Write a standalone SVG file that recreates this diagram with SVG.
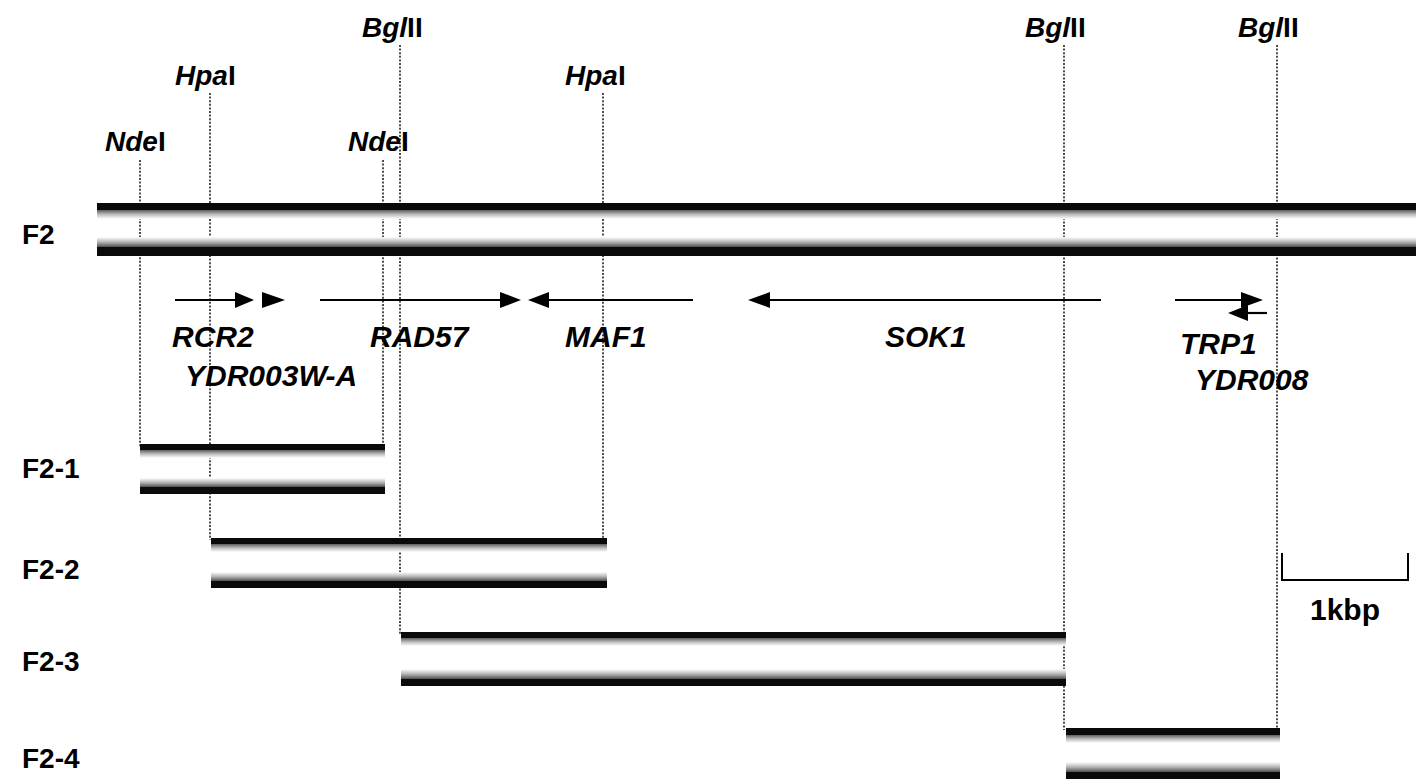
<svg xmlns="http://www.w3.org/2000/svg" width="1416" height="779" viewBox="0 0 1416 779">
<defs>
<linearGradient id="gDown" x1="0" y1="0" x2="0" y2="1">
<stop offset="0" stop-color="#5e5e5e"/><stop offset="0.5" stop-color="#bdbdbd"/><stop offset="1" stop-color="#ffffff"/>
</linearGradient>
<linearGradient id="gUp" x1="0" y1="0" x2="0" y2="1">
<stop offset="0" stop-color="#ffffff"/><stop offset="0.5" stop-color="#b5b5b5"/><stop offset="1" stop-color="#505050"/>
</linearGradient>
</defs>
<style>
.lbl{font-family:"Liberation Sans",Arial,sans-serif;font-weight:bold;fill:#000}
.it{font-style:italic}
.site{font-size:28px}
.gene{font-size:30px;font-style:italic}
.frag{font-size:28px}
.dot{stroke:#222;stroke-width:1.6;stroke-dasharray:2 1.6;fill:none}
.blk{fill:#0a0a0a}
.gd{fill:url(#gDown)}
.gu{fill:url(#gUp)}
.gl{stroke:#000;stroke-width:2.2;fill:none}
.ah{fill:#000}
</style>

<g id="site-lines">
<line class="dot" x1="140" y1="160" x2="140" y2="446"/>
<line class="dot" x1="210" y1="93" x2="210" y2="540"/>
<line class="dot" x1="383" y1="160" x2="383" y2="446"/>
<line class="dot" x1="400" y1="45" x2="400" y2="634"/>
<line class="dot" x1="603" y1="93" x2="603" y2="540"/>
<line class="dot" x1="1064" y1="45" x2="1064" y2="730"/>
<line class="dot" x1="1277" y1="45" x2="1277" y2="730"/>
</g>

<g id="site-labels">
<text class="lbl site" x="105" y="151"><tspan class="it">Nde</tspan>I</text>
<text class="lbl site" x="175" y="85"><tspan class="it">Hpa</tspan>I</text>
<text class="lbl site" x="348" y="151"><tspan class="it">Nde</tspan>I</text>
<text class="lbl site" x="362" y="37"><tspan class="it">Bgl</tspan>II</text>
<text class="lbl site" x="565" y="85"><tspan class="it">Hpa</tspan>I</text>
<text class="lbl site" x="1025" y="37"><tspan class="it">Bgl</tspan>II</text>
<text class="lbl site" x="1238" y="37"><tspan class="it">Bgl</tspan>II</text>
</g>

<g id="F2">
<rect class="blk" x="97" y="203" width="1319" height="7"/>
<rect class="gd" x="97" y="210" width="1319" height="9"/>
<rect class="gu" x="97" y="237" width="1319" height="10"/>
<rect class="blk" x="97" y="247" width="1319" height="9"/>
<text class="lbl frag" x="22" y="244">F2</text>
</g>

<g id="genes">
<line class="gl" x1="175" y1="300" x2="237" y2="300"/>
<polygon class="ah" points="235,292 254,300 235,308"/>
<polygon class="ah" points="262,292 285,300 262,308"/>
<line class="gl" x1="320" y1="300" x2="502" y2="300"/>
<polygon class="ah" points="500,292 521,300 500,308"/>
<polygon class="ah" points="549,292 528,300 549,308"/>
<line class="gl" x1="547" y1="300" x2="693" y2="300"/>
<polygon class="ah" points="770,292 748,300 770,308"/>
<line class="gl" x1="768" y1="300" x2="1101" y2="300"/>
<line class="gl" x1="1175" y1="300" x2="1243" y2="300"/>
<polygon class="ah" points="1241,292 1263,300 1241,308"/>
<polygon class="ah" points="1248,305 1228,313 1248,321"/>
<line class="gl" x1="1246" y1="313" x2="1267" y2="313"/>
<text class="lbl gene" x="172" y="347">RCR2</text>
<text class="lbl gene" x="370" y="347">RAD57</text>
<text class="lbl gene" x="565" y="347">MAF1</text>
<text class="lbl gene" x="885" y="347">SOK1</text>
<text class="lbl gene" x="1180" y="354">TRP1</text>
<text class="lbl gene" x="185" y="386">YDR003W-A</text>
<text class="lbl gene" x="1195" y="390">YDR008</text>
</g>

<g id="F2-1">
<rect class="blk" x="140" y="444" width="245" height="6"/>
<rect class="gd" x="140" y="450" width="245" height="8"/>
<rect class="gu" x="140" y="478" width="245" height="9"/>
<rect class="blk" x="140" y="487" width="245" height="7"/>
<text class="lbl frag" x="22" y="478">F2-1</text>
</g>

<g id="F2-2">
<rect class="blk" x="211" y="538" width="396" height="6"/>
<rect class="gd" x="211" y="544" width="396" height="8"/>
<rect class="gu" x="211" y="572" width="396" height="9"/>
<rect class="blk" x="211" y="581" width="396" height="7"/>
<text class="lbl frag" x="22" y="579">F2-2</text>
</g>

<g id="F2-3">
<rect class="blk" x="401" y="632" width="665" height="6"/>
<rect class="gd" x="401" y="638" width="665" height="8"/>
<rect class="gu" x="401" y="669" width="665" height="10"/>
<rect class="blk" x="401" y="679" width="665" height="7"/>
<text class="lbl frag" x="22" y="671">F2-3</text>
</g>

<g id="F2-4">
<rect class="blk" x="1066" y="728" width="214" height="7"/>
<rect class="gd" x="1066" y="735" width="214" height="8"/>
<rect class="gu" x="1066" y="762" width="214" height="10"/>
<rect class="blk" x="1066" y="772" width="214" height="7"/>
<text class="lbl frag" x="22" y="768">F2-4</text>
</g>

<g id="scale-bar">
<polyline points="1282,553 1282,580 1408,580 1408,553" fill="none" stroke="#000" stroke-width="2"/>
<text class="lbl frag" x="1310" y="620" style="font-size:30px">1kbp</text>
</g>
</svg>
